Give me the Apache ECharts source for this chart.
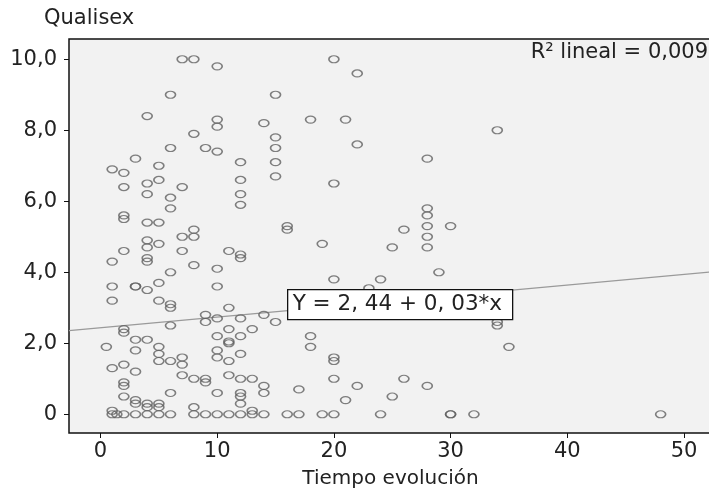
<!DOCTYPE html>
<html lang="es">
  <head>
    <meta charset="UTF-8" />
    <title>Qualisex vs Tiempo evolución</title>
    <style>
      html, body { margin: 0; padding: 0; background: #fff; }
      #chart { width: 709px; height: 495px; }
    </style>
  </head>
  <body>
    <div id="chart"></div>

    <script src="https://cdn.jsdelivr.net/npm/echarts@6.0.0/dist/echarts.min.js"></script>
    <script>
      // valores: cada tiempo con sus valores de Qualisex
      const tiempoGrupos = [0.5, 1, 1.4, 2, 3, 4, 5, 6, 7, 8, 9, 10, 11, 12, 13, 14, 15, 16, 17, 18, 19, 20, 21, 22, 23, 24, 25, 26, 28, 29, 30, 32, 34, 35, 48];
      const qualisexGrupos = [
        [1.9],
        [6.9, 4.3, 3.6, 3.2, 1.3, 0.1, 0],
        [0],
        [6.8, 6.4, 5.6, 5.5, 4.6, 2.4, 2.3, 1.4, 0.9, 0.8, 0.5, 0],
        [7.2, 3.6, 3.6, 2.1, 1.8, 1.2, 0.4, 0.3, 0],
        [8.4, 6.5, 6.2, 5.4, 4.9, 4.7, 4.4, 4.3, 3.5, 2.1, 0.3, 0.2, 0],
        [7.0, 6.6, 5.4, 4.8, 3.7, 3.2, 1.9, 1.7, 1.5, 0.3, 0.2, 0],
        [9.0, 7.5, 6.1, 5.8, 4.0, 3.1, 3.0, 2.5, 1.5, 0.6, 0],
        [10.0, 6.4, 5.0, 4.6, 1.6, 1.4, 1.1],
        [10.0, 7.9, 5.2, 5.0, 4.2, 1.0, 0.2, 0],
        [7.5, 2.8, 2.6, 1.0, 0.9, 0],
        [9.8, 8.3, 8.1, 7.4, 4.1, 3.6, 2.7, 2.2, 1.8, 1.6, 0.6, 0],
        [4.6, 3.0, 2.4, 2.05, 2.0, 1.5, 1.1, 0],
        [7.1, 6.6, 6.2, 5.9, 4.5, 4.4, 2.7, 2.2, 1.7, 1.0, 0.6, 0.5, 0.3, 0],
        [2.4, 1.0, 0.1, 0],
        [8.2, 2.8, 0.8, 0.6, 0],
        [9.0, 7.8, 7.5, 7.1, 6.7, 2.6],
        [5.3, 5.2, 0],
        [0.7, 0],
        [8.3, 2.2, 1.9],
        [4.8, 0],
        [10.0, 6.5, 3.8, 1.6, 1.5, 1.0, 0],
        [8.3, 0.4],
        [9.6, 7.6, 0.8],
        [3.55],
        [3.8, 0],
        [4.7, 0.5],
        [5.2, 1.0],
        [7.2, 5.8, 5.6, 5.3, 5.0, 4.7, 0.8],
        [4.0],
        [5.3, 0, 0],
        [0],
        [8.0, 2.6, 2.5],
        [1.9],
        [0]
      ];
      const xTicks = [0, 10, 20, 30, 40, 50];
      const yTicks = [0, 2, 4, 6, 8, 10];
      const intercepto = 2.44;
      const pendiente = 0.03;
      const r2Texto = 'R² lineal = 0,009';
      const ecuacionTexto = 'Y = 2, 44 + 0, 03*x';

      const xMin = -2.7, xMax = 52.4;
      const yMin = -0.527, yMax = 10.57;

      const puntos = [];
      tiempoGrupos.forEach((t, i) => {
        qualisexGrupos[i].forEach((q) => puntos.push([t, q]));
      });
      const recta = [xMin, xMax].map((x) => [x, intercepto + pendiente * x]);

      const fuente = 'DejaVu Sans';
      const chart = echarts.init(document.getElementById('chart'));
      chart.setOption({
        animation: false,
        textStyle: { fontFamily: fuente },
        grid: {
          left: 69, right: -3, top: 39, bottom: 62,
          outerBoundsMode: 'none',
          containLabel: false,
          show: true,
          backgroundColor: '#f2f2f2',
          borderColor: '#111',
          borderWidth: 1.5
        },
        xAxis: {
          type: 'value',
          min: xMin, max: xMax,
          name: 'Tiempo evolución',
          nameLocation: 'middle',
          nameGap: 36,
          nameTextStyle: { fontSize: 20, color: '#222', fontFamily: fuente },
          axisLine: { show: false, onZero: false },
          axisTick: { show: true, length: 5, customValues: xTicks, lineStyle: { color: '#111' } },
          axisLabel: { customValues: xTicks, margin: 8, fontSize: 21, color: '#222', fontFamily: fuente },
          splitLine: { show: false }
        },
        yAxis: {
          type: 'value',
          min: yMin, max: yMax,
          axisLine: { show: false, onZero: false },
          axisTick: { show: true, length: 5, customValues: yTicks, lineStyle: { color: '#111' } },
          axisLabel: {
            customValues: yTicks, margin: 12, fontSize: 21, color: '#222', fontFamily: fuente,
            formatter: (v) => (v === 0 ? '0' : v.toFixed(1).replace('.', ','))
          },
          splitLine: { show: false }
        },
        series: [
          {
            type: 'line',
            data: recta,
            symbol: 'none',
            silent: true,
            lineStyle: { color: '#9a9a9a', width: 1.2 },
            z: 1
          },
          {
            type: 'scatter',
            data: puntos,
            symbol: 'circle',
            symbolSize: [10, 7],
            itemStyle: { color: 'rgba(0,0,0,0)', borderColor: '#606060', borderWidth: 1.4 },
            z: 2
          }
        ],
        graphic: [
          {
            type: 'text', left: 44, top: 8, z: 100,
            style: { text: 'Qualisex', fontSize: 21, fill: '#222', fontFamily: fuente }
          },
          {
            type: 'text', right: 1, top: 42, z: 100,
            style: { text: r2Texto, fontSize: 21, fill: '#222', fontFamily: fuente }
          },
          {
            type: 'group', left: 287, top: 289, z: 100,
            children: [
              {
                type: 'rect', z: 100,
                shape: { x: 0, y: 0, width: 225, height: 30 },
                style: { fill: '#fff', stroke: '#111', lineWidth: 1.3 }
              },
              {
                type: 'text', z: 101, x: 5, y: 15,
                style: { text: ecuacionTexto, fontSize: 21.5, fill: '#222', fontFamily: fuente, verticalAlign: 'middle' }
              }
            ]
          }
        ]
      });
    </script>
  </body>
</html>
